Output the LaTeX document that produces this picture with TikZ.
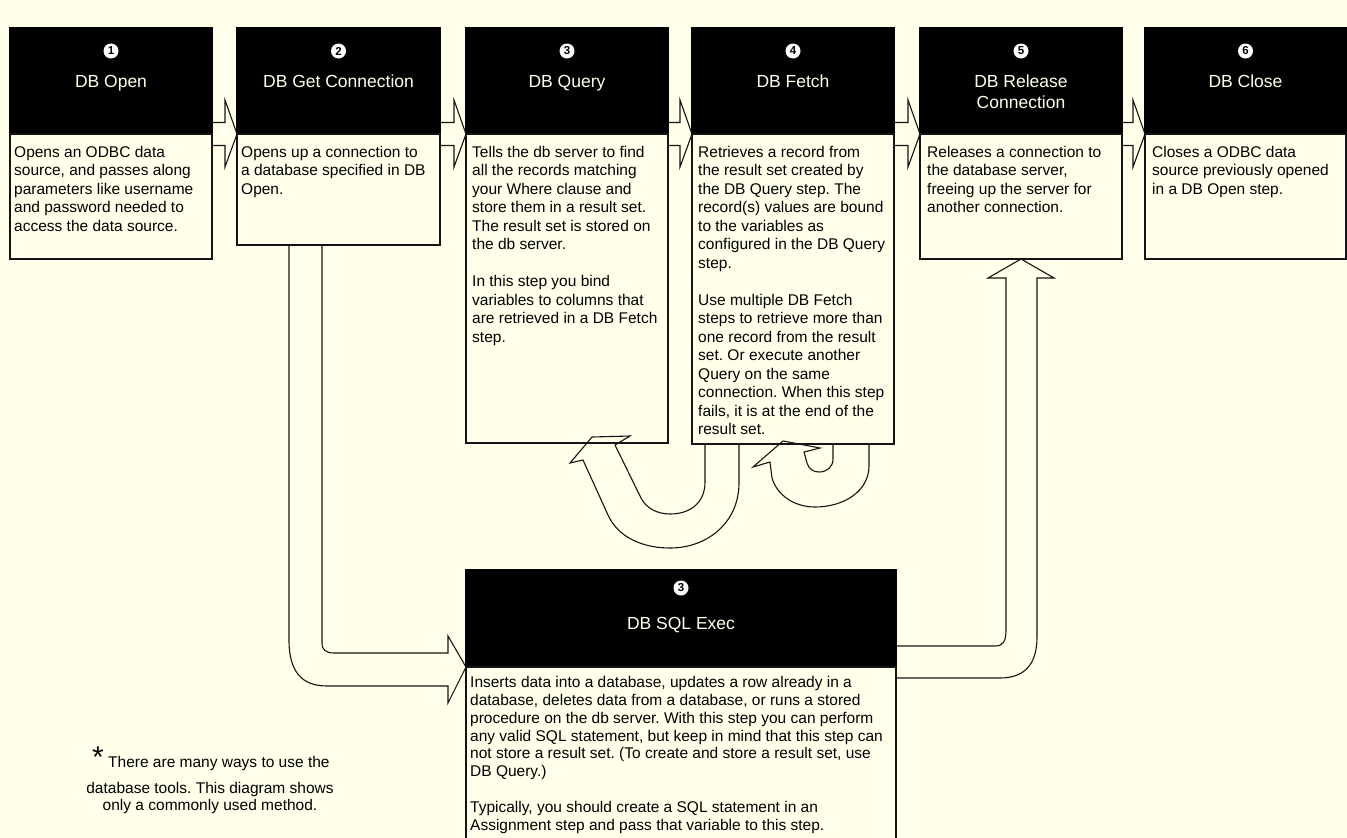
\documentclass[tikz,border=0pt]{standalone}
\usepackage{fontspec}
\setmainfont{Liberation Sans}
\usetikzlibrary{calc}

\definecolor{paper}{HTML}{FFFFEA}
\definecolor{ink}{HTML}{141414}

\tikzset{
  hdr/.style={rectangle, fill=black, draw=black, line width=1.2pt,
    inner sep=0pt, outer sep=0pt, anchor=north west, minimum height=106pt},
  bodybox/.style={rectangle, fill=paper, draw=ink, line width=1.2pt,
    inner sep=0pt, outer sep=0pt, anchor=north west},
  bodytext/.style={anchor=north west, inner sep=0pt, align=left,
    font={\fontsize{15.5}{18.5}\selectfont}, text=black},
  titletext/.style={anchor=north, inner sep=0pt, align=center,
    font={\fontsize{17.5}{21}\selectfont}, text=paper},
  numdot/.style={circle, fill=white, inner sep=0pt, minimum size=15pt,
    font={\bfseries\fontsize{11.5}{11.5}\selectfont}, text=black},
  notetext/.style={inner sep=0pt, font={\fontsize{15.5}{17}\selectfont}, text=black},
  flowline/.style={draw=ink, line width=1.1pt, line join=miter},
}

% hollow block arrow from the right edge of one step to the left edge of the next
\newcommand{\joinsteps}[2]{%
  \draw[flowline] let \p1=(#1.north east), \p2=(#2.north west) in
    (\x1,\y1+11.5pt) -- (\x2-12pt,\y1+11.5pt) -- (\x2-12pt,\y1+34pt)
    -- (\x2,\y1) -- (\x2-12pt,\y1-33pt) -- (\x2-12pt,\y1-11.5pt)
    -- (\x1,\y1-11.5pt);}

\begin{document}
\frenchspacing
\begin{tikzpicture}[x=1pt, y=-1pt]
\fill[paper] (0,0) rectangle (1347,838);
\useasboundingbox (0,0) rectangle (1347,838);

% ---- step boxes: black header + light body ----
\node[hdr, minimum width=202pt] (h1) at (10,28) {};
\node[bodybox, minimum width=202pt, minimum height=125pt] (b1) at (h1.south west) {};

\node[hdr, minimum width=203pt] (h2) at (237,28) {};
\node[bodybox, minimum width=203pt, minimum height=111pt] (b2) at (h2.south west) {};

\node[hdr, minimum width=202pt] (h3) at (466,28) {};
\node[bodybox, minimum width=202pt, minimum height=309pt] (b3) at (h3.south west) {};

\node[hdr, minimum width=202pt] (h4) at (692,28) {};
\node[bodybox, minimum width=202pt, minimum height=310pt] (b4) at (h4.south west) {};

\node[hdr, minimum width=202pt] (h5) at (920,28) {};
\node[bodybox, minimum width=202pt, minimum height=125pt] (b5) at (h5.south west) {};

\node[hdr, minimum width=201pt] (h6) at (1145,28) {};
\node[bodybox, minimum width=201pt, minimum height=125pt] (b6) at (h6.south west) {};

\node[hdr, minimum width=430pt, minimum height=97pt] (h7) at (466,570) {};
\node[bodybox, minimum width=430pt, minimum height=200pt] (b7) at (h7.south west) {};

% ---- header labels ----
\foreach \h/\n in {h1/1, h2/2, h3/3, h4/4, h5/5, h6/6}{
  \node[numdot] (c\n) at ($(\h.north)+(0,23)$) {\n};
}
\node[numdot] (c7) at ($(h7.north)+(0,18)$) {3};

\node[titletext] (l1) at ($(h1.north)+(0,45)$) {\strut DB Open};
\node[titletext] (l2) at ($(h2.north)+(0,45)$) {\strut DB Get Connection};
\node[titletext] (l3) at ($(h3.north)+(0,45)$) {\strut DB Query};
\node[titletext] (l4) at ($(h4.north)+(0,45)$) {\strut DB Fetch};
\node[titletext] (l5) at ($(h5.north)+(0,45)$) {\strut DB Release\\Connection};
\node[titletext] (l6) at ($(h6.north)+(0,45)$) {\strut DB Close};
\node[titletext] (l7) at ($(h7.north)+(0,45)$) {\strut DB SQL Exec};

% ---- body texts ----
\node[bodytext] (t1) at ($(b1.north west)+(4,10)$) {\strut Opens an ODBC data\\
  source, and passes along\\ parameters like username\\
  and password needed to\\ access the data source.};
\node[bodytext] (t2) at ($(b2.north west)+(4,10)$) {\strut Opens up a connection to\\
  a database specified in DB\\ Open.};
\node[bodytext] (t3) at ($(b3.north west)+(6,10)$) {\strut Tells the db server to find\\
  all the records matching\\ your Where clause and\\ store them in a result set.\\
  The result set is stored on\\ the db server.\\[18.5pt]
  In this step you bind\\ variables to columns that\\ are retrieved in a DB Fetch\\ step.};
\node[bodytext] (t4) at ($(b4.north west)+(6,10)$) {\strut Retrieves a record from\\
  the result set created by\\ the DB Query step. The\\ record(s) values are bound\\
  to the variables as\\ configured in the DB Query\\ step.\\[18.5pt]
  Use multiple DB Fetch\\ steps to retrieve more than\\ one record from the result\\
  set. Or execute another\\ Query on the same\\ connection. When this step\\
  fails, it is at the end of the\\ result set.};
\node[bodytext] (t5) at ($(b5.north west)+(7,10)$) {\strut Releases a connection to\\
  the database server,\\ freeing up the server for\\ another connection.};
\node[bodytext] (t6) at ($(b6.north west)+(7,10)$) {\strut Closes a ODBC data\\
  source previously opened\\ in a DB Open step.};
\node[bodytext, font={\fontsize{15.5}{17.8}\selectfont}] (t7) at ($(b7.north west)+(4,8)$)
  {\strut Inserts data into a database, updates a row already in a\\
  database, deletes data from a database, or runs a stored\\
  procedure on the db server. With this step you can perform\\
  any valid SQL statement, but keep in mind that this step can\\
  not store a result set. (To create and store a result set, use\\
  DB Query.)\\[17.8pt]
  Typically, you should create a SQL statement in an\\
  Assignment step and pass that variable to this step.};

% ---- flow arrows along the top row ----
\joinsteps{b1}{b2}
\joinsteps{b2}{b3}
\joinsteps{b3}{b4}
\joinsteps{b4}{b5}
\joinsteps{b5}{b6}

% Get Connection -> SQL Exec
\draw[flowline] ($(b2.south west)+(52,0)$) -- (289,640)
  .. controls (289,672) and (302,686) .. (327,686) -- (448,686) -- (448,703)
  -- (h7.south west) -- (448,636) -- (448,653) -- (334,653)
  .. controls (326,653) and (322,650) .. (322,643) -- ($(b2.south west)+(85,0)$);

% SQL Exec -> Release Connection
\draw[flowline] ($(h7.north east)+(0,76)$) -- (995,646)
  .. controls (1004,646) and (1006,640) .. (1006,630) -- (1006,278) -- (988,278)
  -- (b5.south) -- (1054,278) -- (1037,278) -- (1037,637)
  .. controls (1037,665) and (1024,678) .. (1000,678) -- ($(b7.north east)+(0,11)$);

% Fetch -> Query loop
\draw[flowline] ($(b4.south west)+(13,0)$) -- (705,482)
  .. controls (705,503) and (690,514) .. (670,514)
  .. controls (657,514) and (646,508) .. (641,498) -- (615,445) -- (630,436)
  -- (592,437) -- (570,463) -- (583,460) -- (608,515)
  .. controls (618,537) and (642,548) .. (670,548)
  .. controls (708,548) and (739,522) .. (739,483) -- ($(b4.south west)+(47,0)$);

% Fetch -> Fetch loop
\draw[flowline] ($(b4.south west)+(177,0)$) -- (869,466)
  .. controls (869,491) and (844,507) .. (815,507)
  .. controls (794,507) and (777,495) .. (772,478) -- (770,462) -- (753,467)
  -- (783,441) -- (820,448) -- (804,452) -- (807,463)
  .. controls (809,469) and (813,472) .. (819,472)
  .. controls (827,472) and (833,467) .. (833,459) -- ($(b4.south west)+(141,0)$);

% ---- footnote ----
\node[inner sep=0pt, anchor=base, font={\fontsize{30}{30}\selectfont}] (star) at (98,767) {*};
\node[notetext, anchor=base west] (n1) at (108,767) {There are many ways to use the};
\node[notetext, anchor=base] (n2) at (210,793) {database tools. This diagram shows};
\node[notetext, anchor=base] (n3) at (210,810) {only a commonly used method.};
\end{tikzpicture}
\end{document}
